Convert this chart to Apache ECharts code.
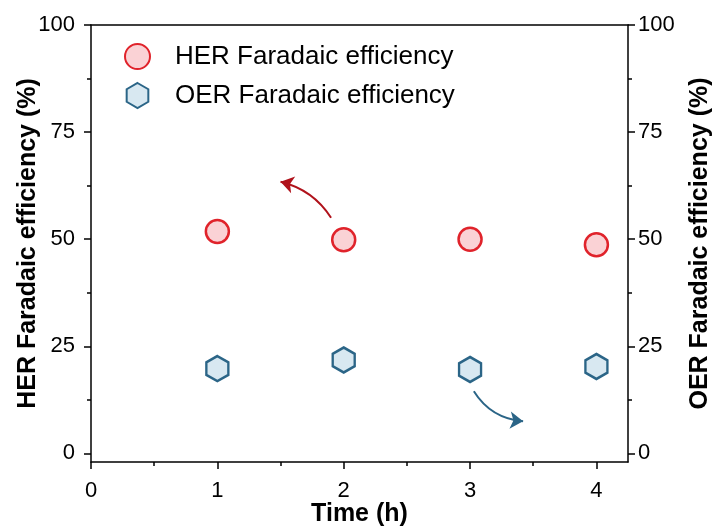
<!DOCTYPE html>
<html>
<head>
<meta charset="utf-8">
<script src="https://cdn.jsdelivr.net/npm/echarts@6/dist/echarts.min.js"></script>
<style>
  html, body { margin: 0; padding: 0; background: #fff; }
  #chart { width: 714px; height: 529px; }
</style>
</head>
<body>
<div id="chart"></div>
<script>
const times = [1, 2, 3, 4];
const herValues = [51.8, 49.9, 50.0, 48.7];
const oerValues = [19.8, 21.8, 19.6, 20.3];
const xTicks = [0, 1, 2, 3, 4];
const xMinorTicks = [0.5, 1.5, 2.5, 3.5];
const yTicks = [0, 25, 50, 75, 100];
const yMinorTicks = [12.5, 37.5, 62.5, 87.5];
const herArrow = [[1.9, 55.0], [1.5, 63.4]];
const oerArrow = [[3.03, 14.5], [3.42, 7.5]];

const hexagon = 'path://M0,-1 L0.866,-0.5 L0.866,0.5 L0,1 L-0.866,0.5 L-0.866,-0.5 Z';
const font = 'Liberation Sans, Arial, sans-serif';

const myChart = echarts.init(document.getElementById('chart'));

const yMajor = (pos, name, gap, margin) => ({
  type: 'value', position: pos, min: -2, max: 100,
  name: name, nameLocation: 'middle', nameGap: gap, nameMoveOverlap: false,
  nameTextStyle: { fontFamily: font, fontSize: 25, fontWeight: 'bold', color: '#000' },
  axisLine: { show: true, onZero: false, lineStyle: { color: '#000', width: 1.5 } },
  axisTick: { show: true, length: 7, customValues: yTicks, lineStyle: { color: '#000', width: 1.5 } },
  axisLabel: { show: true, customValues: yTicks, margin: margin, fontFamily: font, fontSize: 22, color: '#000' },
  splitLine: { show: false }
});
const yMinor = (pos) => ({
  type: 'value', position: pos, min: -2, max: 100,
  axisLine: { show: false, onZero: false },
  axisTick: { show: true, length: 4, customValues: yMinorTicks, lineStyle: { color: '#000', width: 1.5 } },
  axisLabel: { show: false },
  splitLine: { show: false }
});

myChart.setOption({
  animation: false,
  grid: { left: 91, right: 86, top: 25, bottom: 67, containLabel: false, outerBoundsMode: 'none' },
  legend: {
    data: ['HER Faradaic efficiency', 'OER Faradaic efficiency'],
    orient: 'vertical', left: 124, top: 43, itemGap: 12, padding: 0,
    itemWidth: 25, itemHeight: 25,
    textStyle: { fontFamily: font, fontSize: 26, lineHeight: 26, color: '#000', padding: [0, 0, 0, 20] }
  },
  xAxis: [{
    type: 'value', min: 0, max: 4.25, position: 'bottom',
    name: 'Time (h)', nameLocation: 'middle', nameGap: 40, nameMoveOverlap: false,
    nameTextStyle: { fontFamily: font, fontSize: 25, fontWeight: 'bold', color: '#000' },
    axisLine: { show: true, onZero: false, lineStyle: { color: '#000', width: 1.5 } },
    axisTick: { show: true, length: 7, customValues: xTicks, lineStyle: { color: '#000', width: 1.5 } },
    axisLabel: { customValues: xTicks, margin: 18, fontFamily: font, fontSize: 22, color: '#000' },
    splitLine: { show: false }
  }, {
    type: 'value', min: 0, max: 4.25, position: 'bottom',
    axisLine: { show: false, onZero: false },
    axisTick: { show: true, length: 4, customValues: xMinorTicks, lineStyle: { color: '#000', width: 1.5 } },
    axisLabel: { show: false },
    splitLine: { show: false }
  }, {
    type: 'value', min: 0, max: 4.25, position: 'top',
    axisLine: { show: true, onZero: false, lineStyle: { color: '#000', width: 1.5 } },
    axisTick: { show: false }, axisLabel: { show: false }, splitLine: { show: false }
  }],
  yAxis: [
    yMajor('left', 'HER Faradaic efficiency (%)', 50, 16),
    yMajor('right', 'OER Faradaic efficiency (%)', 60, 10),
    yMinor('left'),
    yMinor('right')
  ],
  series: [{
    name: 'HER Faradaic efficiency', type: 'scatter',
    xAxisIndex: 0, yAxisIndex: 0,
    symbol: 'circle', symbolSize: 23,
    itemStyle: { color: '#FAD2D5', borderColor: '#E0232B', borderWidth: 2.5, opacity: 1 },
    data: times.map((t, i) => [t, herValues[i]])
  }, {
    name: 'OER Faradaic efficiency', type: 'scatter',
    xAxisIndex: 0, yAxisIndex: 1,
    symbol: hexagon, symbolSize: [22, 25],
    itemStyle: { color: '#D8E8F1', borderColor: '#2B6587', borderWidth: 2.5, opacity: 1 },
    data: times.map((t, i) => [t, oerValues[i]])
  }, {
    type: 'lines', coordinateSystem: 'cartesian2d', xAxisIndex: 0, yAxisIndex: 0,
    symbol: ['none', 'arrow'], symbolSize: 13,
    lineStyle: { color: '#B0121B', width: 2, curveness: -0.2, opacity: 1 },
    data: [{ coords: herArrow }]
  }, {
    type: 'lines', coordinateSystem: 'cartesian2d', xAxisIndex: 0, yAxisIndex: 1,
    symbol: ['none', 'arrow'], symbolSize: 13,
    lineStyle: { color: '#2B6587', width: 2, curveness: -0.25, opacity: 1 },
    data: [{ coords: oerArrow }]
  }]
});
</script>
</body>
</html>
